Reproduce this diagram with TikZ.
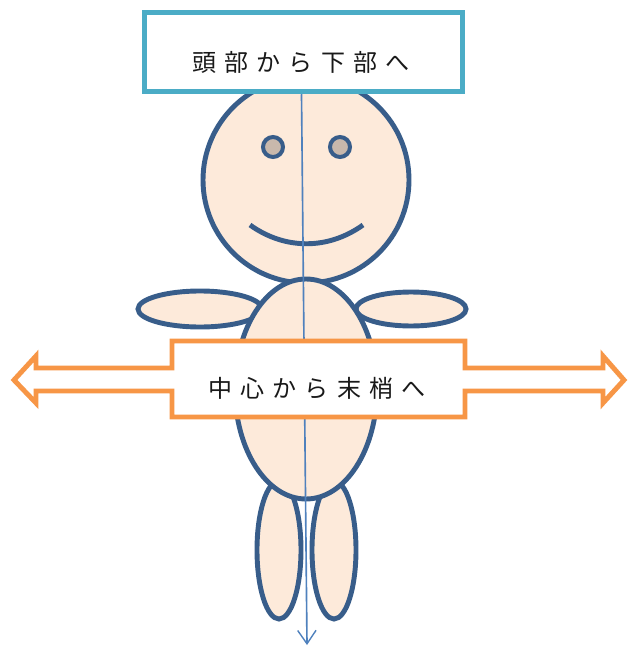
\documentclass[tikz,border=0pt]{standalone}
\usepackage{fontspec}
\newfontfamily\jpfont{Noto Sans CJK JP}
\usetikzlibrary{arrows.meta,positioning}
\definecolor{FigTeal}{HTML}{4BACC6}
\definecolor{FigOrange}{HTML}{F79646}
\definecolor{FigLine}{HTML}{385D8A}
\definecolor{FigSkin}{HTML}{FDEADA}
\definecolor{FigEye}{HTML}{C8B8AC}
\definecolor{FigAxis}{HTML}{4F81BD}
\newcommand{\jsep}{\hspace{0.34em}}
\tikzset{
  part/.style={draw=FigLine,fill=FigSkin,line width=4.2pt},
  eye/.style={part,fill=FigEye,line width=3.4pt},
  mouth/.style={draw=FigLine,line width=4.2pt},
  axis/.style={-{Straight Barb[length=4mm,width=5.5mm,line width=1.2pt]},FigAxis,line width=1.4pt},
  headbox/.style={draw=FigTeal,line width=4.4pt,fill=white,minimum width=9.55cm,minimum height=2.38cm},
  outline/.style={draw=FigOrange,line width=4.2pt,fill=white,line join=miter},
  caption/.style={font=\jpfont\fontsize{20.5}{22}\selectfont,text=black!90},
}

\begin{document}
\begin{tikzpicture}[x=0.03cm,y=-0.03cm]
  \useasboundingbox (0,0) rectangle (628,648);

  % head and face
  \draw[part] (306,180) circle[radius=103];
  \draw[eye] (273,147) circle[radius=10];
  \draw[eye] (340,147) circle[radius=10];
  \draw[mouth] (250,225) .. controls (285,250) and (328,250) .. (363,225);

  % arms and legs sit behind the trunk
  \draw[part] (200,309) ellipse[x radius=62,y radius=18];
  \draw[part] (411,309) ellipse[x radius=55,y radius=17];
  \draw[part] (279,550) ellipse[x radius=22,y radius=69];
  \draw[part] (334,550) ellipse[x radius=22,y radius=69];
  \draw[part] (306,389) ellipse[x radius=71,y radius=110];

  % top label and the head-to-foot axis
  \node[headbox] (top) at (303.5,52) {};
  \node[caption] (toptext) at (301,62)
    {頭\jsep 部\jsep か\jsep ら\jsep 下\jsep 部\jsep へ};
  \coordinate (foot) at (307,645);
  \draw[axis] ([xshift=-0.06cm]top.south) -- (foot);

  % centre label with arrows to both sides
  \draw[outline] (172,341) -- (465,341) -- (465,368) -- (603,368) -- (603,356)
    -- (624,380) -- (603,403) -- (603,391) -- (465,391) -- (465,417)
    -- (172,417) -- (172,391) -- (36,391) -- (36,403) -- (14,380)
    -- (36,356) -- (36,368) -- (172,368) -- cycle;
  \node[caption] (midtext) at (317,388)
    {中\jsep 心\jsep か\jsep ら\jsep 末\jsep 梢\jsep へ};
\end{tikzpicture}
\end{document}
